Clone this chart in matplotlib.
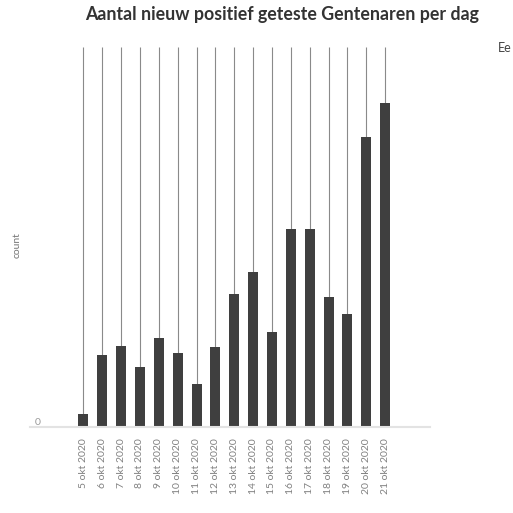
import numpy as np
import matplotlib
matplotlib.use("Agg")
import matplotlib.pyplot as plt

# daily counts
dagen = ["5 okt 2020", "6 okt 2020", "7 okt 2020", "8 okt 2020", "9 okt 2020",
         "10 okt 2020", "11 okt 2020", "12 okt 2020", "13 okt 2020", "14 okt 2020",
         "15 okt 2020", "16 okt 2020", "17 okt 2020", "18 okt 2020", "19 okt 2020",
         "20 okt 2020", "21 okt 2020"]
aantal = [2, 10.7, 12, 8.9, 13.2, 11, 6.4, 11.9, 19.7, 22.9, 14.1, 29.3, 29.3, 19.3, 16.8, 43, 48]

plt.rcParams['font.family'] = ['Lato', 'DejaVu Sans']

fig = plt.figure(figsize=(5.13, 5.13), dpi=100)
ax = fig.add_axes([30/513, 86/513, 400/513, 380/513])

x = np.arange(len(dagen))
ymax = 56.3

ax.vlines(x, aantal, ymax, color="#8a8a8a", lw=0.8, zorder=1)
ax.bar(x, aantal, width=0.53, color="#3f3f3f", zorder=2)

ax.set_xlim(-2.83, 18.38)
ax.set_ylim(0, ymax)

for s in ["top", "right", "left"]:
    ax.spines[s].set_visible(False)
ax.spines["bottom"].set_color("#e3e3e3")
ax.spines["bottom"].set_linewidth(1.5)

ax.set_xticks(x)
ax.set_xticklabels(dagen, rotation=90, fontsize=7.5, color="#808080")
ax.tick_params(axis="x", length=0, pad=8)
ax.set_yticks([0])
ax.set_yticklabels(["0"], fontsize=7.5, color="#999999")
ax.tick_params(axis="y", length=0, pad=-8)
for lbl in ax.get_yticklabels():
    lbl.set_verticalalignment("bottom")

fig.text(17/513, 1 - 245/513, "count", rotation=90, fontsize=7.5, color="#777777",
         ha="center", va="center")
fig.text(282/513, 1 - 15/513, "Aantal nieuw positief geteste Gentenaren per dag",
         fontsize=12.8, fontweight="bold", color="#333333", ha="center", va="center")
fig.text(498/513, 1 - 48/513, "Ee", fontsize=9, color="#444444",
         ha="left", va="center")

fig.savefig("out.png", dpi=100)
